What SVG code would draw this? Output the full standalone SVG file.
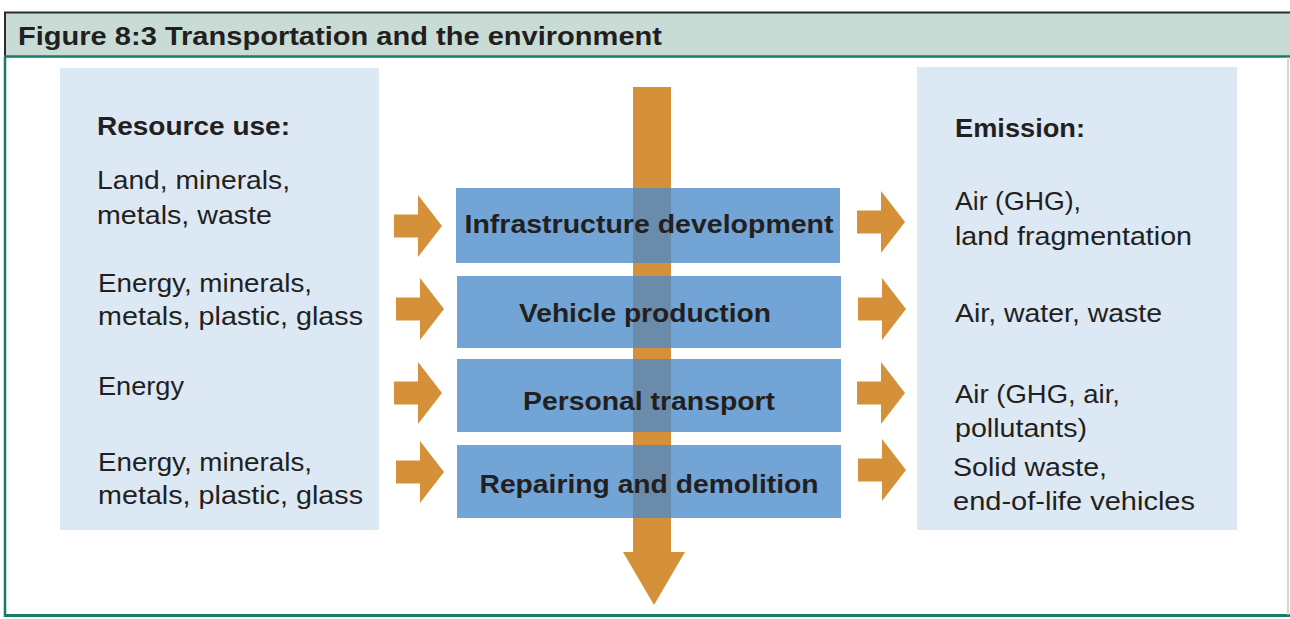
<svg xmlns="http://www.w3.org/2000/svg" width="1290" height="619" viewBox="0 0 1290 619">
<style>
.panel{fill:#dce8f3}
.box{fill:#72a5d5}
.ov{fill:#6a8caa}
.or{fill:#d4913a}
text{font-family:"Liberation Sans",Arial,sans-serif;fill:#231f20}
.t{font-size:26px}
.b{font-size:25px;font-weight:bold}
.c{font-size:25.5px;font-weight:bold;text-anchor:middle}
</style>
<defs>
<path id="arr" d="M0,-11.5 H24 V-31 L48,0 L24,31 V11.5 H0 Z"/>
</defs>
<rect x="0" y="0" width="1290" height="619" fill="#ffffff"/>
<g id="frame">
<rect x="4" y="12" width="1286" height="44" fill="#c8dcd5"/>
<line x1="4" y1="12.5" x2="1290" y2="12.5" stroke="#2b2b2b" stroke-width="2"/>
<line x1="5" y1="12" x2="5" y2="57" stroke="#2b2b2b" stroke-width="2"/>
<line x1="5" y1="57" x2="5" y2="617" stroke="#1a7a66" stroke-width="2.5"/>
<line x1="4" y1="56.5" x2="1290" y2="56.5" stroke="#1a7a66" stroke-width="2.5"/>
<line x1="4" y1="615.5" x2="1290" y2="615.5" stroke="#1a7a66" stroke-width="3"/>
<line x1="1288" y1="57" x2="1288" y2="615" stroke="#b5d3c8" stroke-width="1.5"/>
<text x="18" y="45" style="font-size:26px;font-weight:bold" textLength="644" lengthAdjust="spacingAndGlyphs">Figure 8:3 Transportation and the environment</text>
</g>
<g id="resource-use">
<rect class="panel" x="60" y="68" width="319" height="462"/>
<text class="b" x="97" y="135" textLength="193" lengthAdjust="spacingAndGlyphs">Resource use:</text>
<text class="t" x="97" y="189" textLength="193" lengthAdjust="spacingAndGlyphs">Land, minerals,</text>
<text class="t" x="97" y="224" textLength="175" lengthAdjust="spacingAndGlyphs">metals, waste</text>
<text class="t" x="98" y="292" textLength="214" lengthAdjust="spacingAndGlyphs">Energy, minerals,</text>
<text class="t" x="98" y="325" textLength="265" lengthAdjust="spacingAndGlyphs">metals, plastic, glass</text>
<text class="t" x="98" y="395" textLength="86" lengthAdjust="spacingAndGlyphs">Energy</text>
<text class="t" x="98" y="471" textLength="214" lengthAdjust="spacingAndGlyphs">Energy, minerals,</text>
<text class="t" x="98" y="504" textLength="265" lengthAdjust="spacingAndGlyphs">metals, plastic, glass</text>
</g>
<g id="emission">
<rect class="panel" x="917" y="67" width="320" height="463"/>
<text class="b" x="955" y="137" textLength="130" lengthAdjust="spacingAndGlyphs">Emission:</text>
<text class="t" x="955" y="210" textLength="126" lengthAdjust="spacingAndGlyphs">Air (GHG),</text>
<text class="t" x="955" y="245" textLength="237" lengthAdjust="spacingAndGlyphs">land fragmentation</text>
<text class="t" x="955" y="322" textLength="207" lengthAdjust="spacingAndGlyphs">Air, water, waste</text>
<text class="t" x="955" y="403" textLength="165" lengthAdjust="spacingAndGlyphs">Air (GHG, air,</text>
<text class="t" x="955" y="437" textLength="132" lengthAdjust="spacingAndGlyphs">pollutants)</text>
<text class="t" x="953" y="476" textLength="154" lengthAdjust="spacingAndGlyphs">Solid waste,</text>
<text class="t" x="953" y="510" textLength="242" lengthAdjust="spacingAndGlyphs">end-of-life vehicles</text>
</g>
<g id="connectors">
<path class="or" d="M633,87 H671 V552 H685 L654,605 L623,552 H633 Z"/>
<use href="#arr" class="or" x="394" y="226"/>
<use href="#arr" class="or" x="396" y="309"/>
<use href="#arr" class="or" x="394" y="393"/>
<use href="#arr" class="or" x="396" y="472"/>
<use href="#arr" class="or" x="857" y="222"/>
<use href="#arr" class="or" x="858" y="309"/>
<use href="#arr" class="or" x="857" y="393"/>
<use href="#arr" class="or" x="858" y="470"/>
</g>
<g id="infrastructure-development">
<rect class="box" x="456" y="188" width="384" height="75"/>
<rect class="ov" x="633" y="188" width="38" height="75"/>
<text class="c" x="649" y="233" textLength="369" lengthAdjust="spacingAndGlyphs">Infrastructure development</text>
</g>
<g id="vehicle-production">
<rect class="box" x="457" y="276" width="384" height="72"/>
<rect class="ov" x="633" y="276" width="38" height="72"/>
<text class="c" x="645" y="322" textLength="252" lengthAdjust="spacingAndGlyphs">Vehicle production</text>
</g>
<g id="personal-transport">
<rect class="box" x="457" y="359" width="384" height="73"/>
<rect class="ov" x="633" y="359" width="38" height="73"/>
<text class="c" x="649" y="410" textLength="252" lengthAdjust="spacingAndGlyphs">Personal transport</text>
</g>
<g id="repairing-demolition">
<rect class="box" x="457" y="445" width="384" height="73"/>
<rect class="ov" x="633" y="445" width="38" height="73"/>
<text class="c" x="649" y="493" textLength="339" lengthAdjust="spacingAndGlyphs">Repairing and demolition</text>
</g>
</svg>
